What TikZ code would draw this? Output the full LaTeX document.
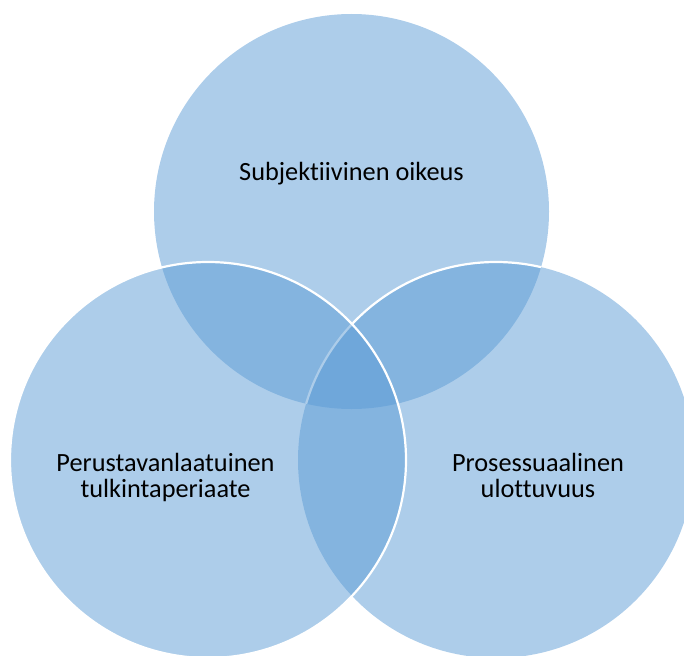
\documentclass[tikz,border=0pt]{standalone}
\usepackage{fontspec}
\setmainfont{Carlito}[RawFeature={-liga;-clig;-dlig}]
\definecolor{accent}{HTML}{5B9BD5}
\begin{document}
\begin{tikzpicture}[x=1pt,y=-1pt,
  vennfill/.style={fill=accent, fill opacity=0.5},
  vennline/.style={draw=white, line width=2.2pt},
  lbl/.style={font=\fontsize{26.3}{25.7}\selectfont, text=black, align=center, inner sep=0pt}]
\useasboundingbox (0,0) rectangle (684,655);
\clip (0,0) rectangle (684,655);
\coordinate (ct) at (351.5,211.5);
\coordinate (cl) at (208,460);
\coordinate (cr) at (496,460);
% top circle
\fill[vennfill] (ct) circle[radius=197.5pt];
% right circle
\fill[vennfill] (cr) circle[radius=198pt];
\begin{scope}
  \clip (ct) circle[radius=197.5pt];
  \draw[vennline] (cr) circle[radius=198pt];
\end{scope}
% left circle
\fill[vennfill] (cl) circle[radius=198pt];
\draw[vennline] (cl) circle[radius=198pt];
% labels
\node[lbl, anchor=base] (tt) at (351.5,180) {Subjektiivinen oikeus};
\node[lbl, anchor=base] (lt) at (165.5,497.3) {Perustavanlaatuinen\\tulkintaperiaate};
\node[lbl, anchor=base] (rt) at (538,497.3) {Prosessuaalinen\\ulottuvuus};
\end{tikzpicture}
\end{document}
